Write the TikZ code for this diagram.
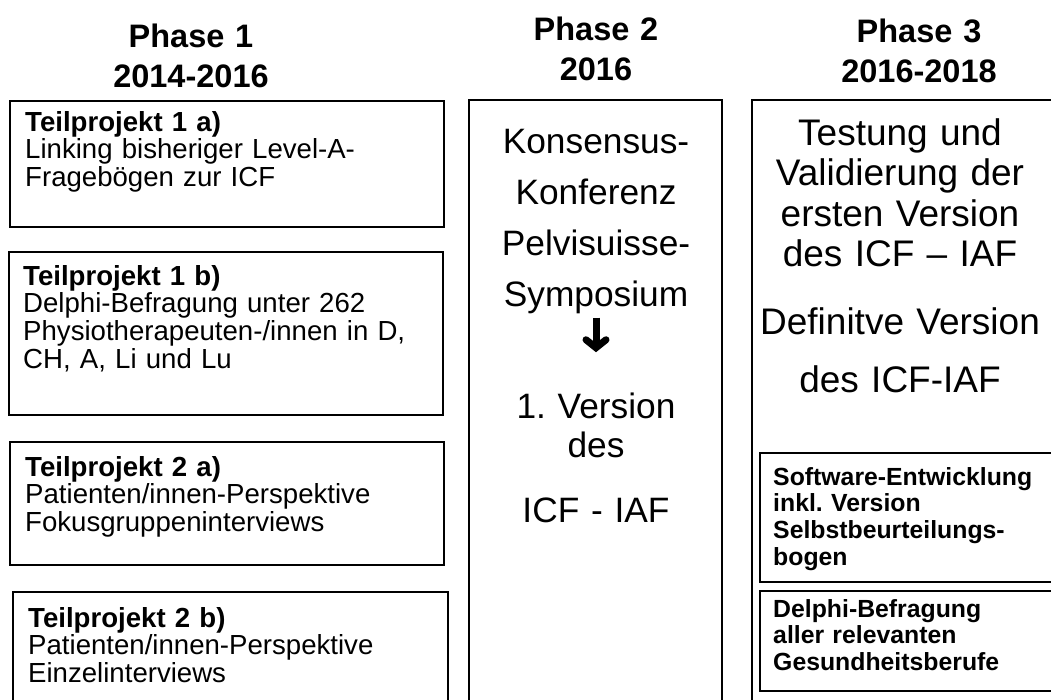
\documentclass[tikz,border=0pt]{standalone}
\usepackage{fontspec}
\setmainfont{Liberation Sans}
\usetikzlibrary{arrows.meta}
\begin{document}
\frenchspacing
\begin{tikzpicture}[x=1pt,y=-1pt,
  box/.style={draw=black, line width=2.2pt, rectangle, inner sep=0pt, outer sep=0pt, anchor=north west},
  hdr/.style={font=\bfseries\fontsize{32.5}{40.5}\selectfont, align=center, text width=300pt, inner sep=0pt, anchor=base},
  body/.style={font=\fontsize{27.6}{27.8}\selectfont, align=left, text width=425pt, inner sep=0pt, anchor=base west},
  big/.style={align=center, text width=300pt, inner sep=0pt, anchor=base},
  small/.style={font=\bfseries\fontsize{24.8}{26.7}\selectfont, align=left, text width=290pt, inner sep=0pt, anchor=base west},
  bigarrow/.style={line width=7pt, -{Straight Barb[length=8pt,width=20pt,line cap=round]}}
]
\useasboundingbox (0,0) rectangle (1051,699);
\fill[white] (0,0) rectangle (1051,699);
\clip (0,0) rectangle (1051,699);

% headers
\node[hdr] (h1) at (191,47) {Phase 1\\2014-2016};
\node[hdr] (h2) at (596,40) {Phase 2\\2016};
\node[hdr] (h3) at (919,42) {Phase 3\\2016-2018};

% phase 1 boxes
\node[box, minimum width=434pt, minimum height=126pt] (b1a) at (10,101) {};
\node[body] (t1a) at (25,131) {\textbf{Teilprojekt 1 a)}\\Linking bisheriger Level-A-\\Fragebögen zur ICF};

\node[box, minimum width=434pt, minimum height=163pt] (b1b) at (9,252) {};
\node[body] (t1b) at (23,285) {\textbf{Teilprojekt 1 b)}\\Delphi-Befragung unter 262\\Physiotherapeuten-/innen in D,\\CH, A, Li und Lu};

\node[box, minimum width=434pt, minimum height=123pt] (b2a) at (10,442) {};
\node[body] (t2a) at (25,476) {\textbf{Teilprojekt 2 a)}\\Patienten/innen-Perspektive\\Fokusgruppeninterviews};

\node[box, minimum width=435pt, minimum height=140pt] (b2b) at (13,592) {};
\node[body] (t2b) at (28,627) {\textbf{Teilprojekt 2 b)}\\Patienten/innen-Perspektive\\Einzelinterviews};

% phase 2
\node[box, minimum width=253pt, minimum height=640pt] (p2box) at (469,100) {};
\node[big, font=\fontsize{35.3}{51}\selectfont] (p2top) at (596,153) {Konsensus-\\Konferenz\\Pelvisuisse-\\Symposium};
\node[big, font=\fontsize{35.3}{39}\selectfont] (p2bot) at (596,418) {1. Version\\des\\[26pt]ICF - IAF};
\draw[bigarrow, shorten <=4pt, shorten >=40pt] (p2top.south) -- (p2bot.north);

% phase 3
\node[box, minimum width=330pt, minimum height=640pt] (p3box) at (752,100) {};
\node[big, font=\fontsize{37}{40.5}\selectfont] (p3a) at (900,145) {Testung und\\Validierung der\\ersten Version\\des ICF \textendash{} IAF};
\node[big, font=\fontsize{37}{58}\selectfont] (p3b) at (900,334) {Definitve Version\\des ICF-IAF};

\node[box, minimum width=320pt, minimum height=129pt] (sw) at (760,453) {};
\node[small] (tsw) at (773,485) {Software-Entwicklung\\inkl. Version\\Selbstbeurteilungs-\\bogen};
\node[box, minimum width=320pt, minimum height=100pt] (dl) at (760,591) {};
\node[small] (tdl) at (773,617) {Delphi-Befragung\\aller relevanten\\Gesundheitsberufe};
\end{tikzpicture}
\end{document}
